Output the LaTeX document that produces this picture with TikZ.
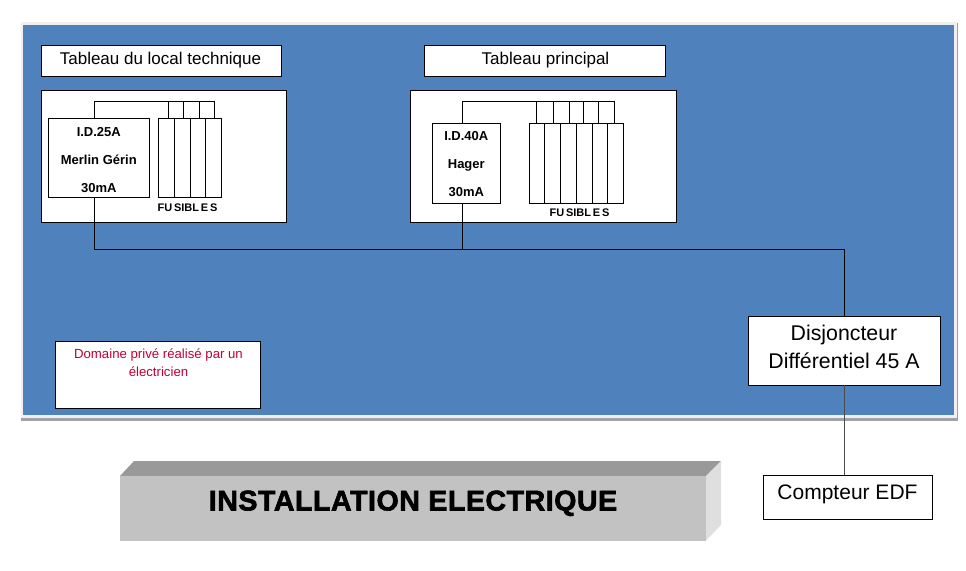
\documentclass[tikz,border=0pt]{standalone}
\usepackage{fontspec}
\setmainfont{Liberation Sans}
\newfontfamily\blk[FakeBold=2.2,LetterSpace=2]{Liberation Sans Bold}
\definecolor{panelblue}{HTML}{4F81BD}
\definecolor{redtxt}{HTML}{C00033}
\tikzset{
  px/.style={x=1pt,y=-1pt},
  box/.style={draw=black,fill=white,line width=0.9pt,inner sep=0pt,outer sep=0pt,anchor=north west},
  wire/.style={draw=black,line width=0.9pt},
  lbl/.style={inner sep=0pt,outer sep=0pt,align=center,text depth=0pt},
  small/.style={lbl,font=\fontsize{13}{28}\selectfont\bfseries},
  fuselbl/.style={lbl,font=\fontsize{11}{12}\selectfont\bfseries},
}
\newcommand{\bx}[6][]{\node[box,minimum width=#5pt-#3pt,minimum height=#6pt-#4pt,#1] (#2) at (#3,#4) {};}
\begin{document}
\begin{tikzpicture}[px]
\useasboundingbox (0,0) rectangle (966,570);
\fill[white] (0,0) rectangle (966,570);
% panel
\fill[black!10!blue!5!gray!70] (20.5,23) rectangle (958,421);
\fill[gray!12] (20.5,21.5) rectangle (957,418);
\node[fill=panelblue,inner sep=0pt,outer sep=0pt,anchor=north west,minimum width=931pt,minimum height=390pt] (panel) at (23,25) {};
% titles
\bx{t1}{41.7}{45.3}{281.5}{76.3}
\bx{t2}{424.3}{45.3}{665.7}{76.3}
\node[lbl,font=\fontsize{17}{20}\selectfont] (t1l) at (160.5,58) {Tableau du local technique};
\node[lbl,font=\fontsize{17}{20}\selectfont] (t2l) at (545.5,58) {Tableau principal};
% cabinets
\bx{c1}{41.7}{90.3}{286.7}{222.3}
\bx{c2}{410.3}{90.3}{676.7}{222.3}
% devices
\bx{id1}{48.3}{118.3}{149.3}{197.3}
\bx{id2}{432.3}{123.3}{500.3}{203.3}
\node[small] (id1l) at (98.8,159.5) {I.D.25A\\Merlin Gérin\\30mA};
\node[small] (id2l) at (466.3,164) {I.D.40A\\Hager\\30mA};
% fuses 1
\foreach \n/\a/\b in {1/158.3/174.3,2/174.3/190.3,3/190.3/205.3,4/205.3/221.3}{
  \bx{fa\n}{\a}{118.3}{\b}{197.3}
}
% fuses 2
\foreach \n/\a/\b in {1/529.3/544.3,2/544.3/560.3,3/560.3/576.3,4/576.3/592.3,5/592.3/607.7,6/607.7/623.3}{
  \bx{fb\n}{\a}{123.3}{\b}{203.3}
}
\node[fuselbl] (fl1) at (187.5,208) {FU\,SIBL\,E\,S};
\node[fuselbl] (fl2) at (579.5,213) {FU\,SIBL\,E\,S};
% other boxes
\bx{dj}{748.3}{316.3}{940.7}{385.3}
\node[lbl,font=\fontsize{21.3}{28}\selectfont] (djl) at (844,346.5) {Disjoncteur\\Différentiel 45 A};
\bx{cp}{763.3}{475.3}{932.3}{519.3}
\node[lbl,font=\fontsize{21}{24}\selectfont] (cpl) at (847.5,492) {Compteur EDF};
\bx{dom}{55}{341}{260.5}{408.3}
\node[lbl,text=redtxt,font=\fontsize{13.2}{18}\selectfont] (doml) at (158.5,363) {Domaine privé réalisé par un\\électricien};
% wiring junctions
\coordinate (ja) at (94.3,101.3);
\coordinate (jb) at (214.3,101.3);
\coordinate (jc) at (462.3,101.3);
\coordinate (jd) at (614.3,101.3);
\coordinate (bus1) at (94.3,249.3);
\coordinate (bus2) at (462.3,249.3);
\coordinate (bus3) at (844.8,249.3);
\draw[wire] (ja |- id1.north) -- (ja) -- (jb) -- (jb |- fa1.north);
\foreach \x in {168.3,183.3,199.7}{\draw[wire] (\x,101.3) -- (\x,118.3);}
\draw[wire] (jc |- id2.north) -- (jc) -- (jd) -- (jd |- fb1.north);
\foreach \x in {536.3,553.3,569.3,583.7,598.7}{\draw[wire] (\x,101.3) -- (\x,123.3);}
\draw[wire] (ja |- id1.south) -- (bus1) -- (bus3) -- (bus3 |- dj.north);
\draw[wire] (jc |- id2.south) -- (bus2);
\draw[draw=black!70,line width=1.2pt] (bus3 |- dj.south) -- (bus3 |- cp.north);
% bar
\fill[gray!80!white] (120,476) -- (134,461) -- (721,461) -- (706,476) -- cycle;
\fill[gray!25] (706,476) -- (721,461) -- (721,525) -- (706,540.5) -- cycle;
\node[fill=black!24,inner sep=0pt,outer sep=0pt,anchor=north west,minimum width=586pt,minimum height=64.5pt] (bar) at (120,476) {};
\node[lbl,font=\blk\fontsize{28.5}{32}\selectfont] (bartxt) at (413,500.5) {INSTALLATION ELECTRIQUE};
\end{tikzpicture}
\end{document}
